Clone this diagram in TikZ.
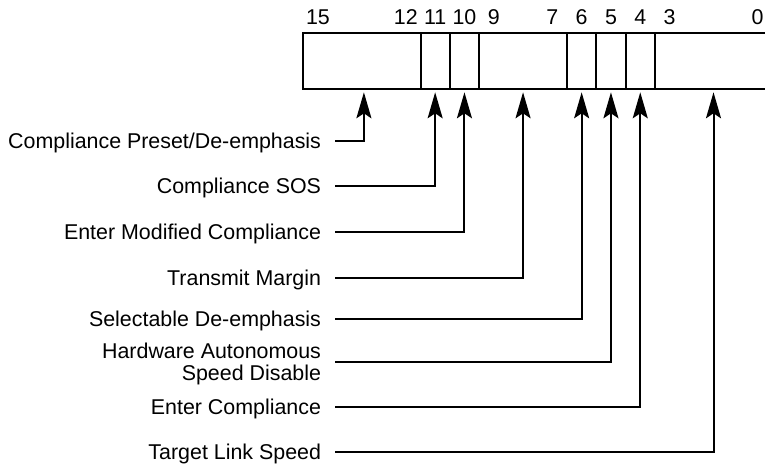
\documentclass[tikz,border=0pt]{standalone}
\usepackage{fontspec}
\setmainfont{Liberation Sans}
\usetikzlibrary{arrows.meta, positioning}

\tikzset{
  regfont/.style={font=\fontsize{10.7}{11}\selectfont},
  field/.style={draw, line width=1pt, minimum height=28pt, inner sep=0pt, outer sep=0pt, anchor=north west},
  bitnum/.style={regfont, anchor=base, inner sep=0pt},
  fieldlabel/.style={regfont, anchor=east, inner sep=0pt, outer xsep=7pt, align=right, text height=7.6pt, text depth=0pt},
  pointer/.style={-{Stealth[length=13pt, width=7.5pt, inset=2.5pt]}, line width=1pt, shorten >=1.5pt}
}

\begin{document}
\begin{tikzpicture}[x=0.5pt, y=-0.5pt]
  \useasboundingbox (0,0) rectangle (765,464);
  \clip (0,0) rectangle (765,464);
  % Register fields (high bit / width in bits)
  \foreach \hi/\w in {15/4, 11/1, 10/1, 9/3, 6/1, 5/1, 4/1, 3/4} {
    \node[field, minimum width=\w*14.65pt] (f\hi) at ({303.3+(15-\hi)*29.3}, 33.3) {};
  }
  % Bit numbers
  \foreach \b in {15,12,11,10,9,7,6,5,4,3,0} {
    \node[bitnum] (n\b) at ({303.3+(15-\b+0.5)*29.3}, 25) {\b};
  }
  % Field names
  \node[fieldlabel] (lPreset) at (335,141) {Compliance Preset/De-emphasis};
  \node[fieldlabel] (lSOS) at (335,186) {Compliance SOS};
  \node[fieldlabel] (lModified) at (335,231.7) {Enter Modified Compliance};
  \node[fieldlabel] (lMargin) at (335,278) {Transmit Margin};
  \node[fieldlabel] (lSelect) at (335,319.3) {Selectable De-emphasis};
  \node[regfont, anchor=east, inner sep=0pt, outer xsep=7pt, align=right, text depth=0pt] (lAuto) at (335,361.7)
    {Hardware Autonomous\\Speed Disable};
  \node[fieldlabel] (lEnter) at (335,407.3) {Enter Compliance};
  \node[fieldlabel] (lSpeed) at (335,451.7) {Target Link Speed};
  % Pointers
  \draw[pointer] (lPreset.east) -| ([xshift=1pt]f15.south);
  \draw[pointer] (lSOS.east) -| (f11.south);
  \draw[pointer] (lModified.east) -| (f10.south);
  \draw[pointer] (lMargin.east) -| (f9.south);
  \draw[pointer] (lSelect.east) -| (f6.south);
  \draw[pointer] (lAuto.east) -| (f5.south);
  \draw[pointer] (lEnter.east) -| (f4.south);
  \draw[pointer] (lSpeed.east) -| (f3.south);
\end{tikzpicture}
\end{document}
